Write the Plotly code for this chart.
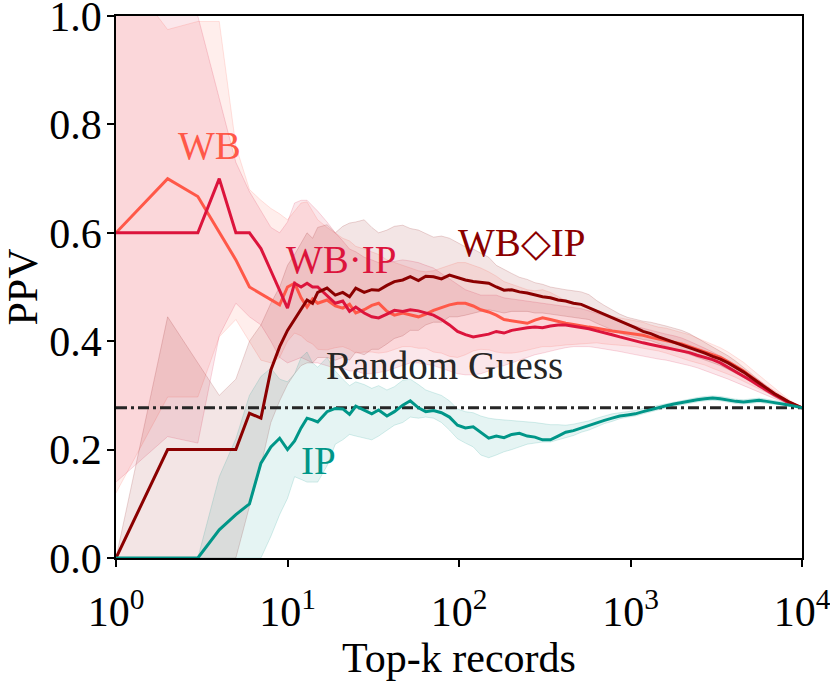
"""
PPV des top-k enregistrements pour quatre méthodes (WB, WB·IP, WB◇IP, IP),
avec bandes de dispersion et ligne du tirage aléatoire.
"""

import plotly.graph_objects as go

# ---------------------------------------------------------------------------
# Données
# ---------------------------------------------------------------------------

K = [1, 2, 3, 4, 5, 6, 7, 8, 9, 10,
     11, 12, 13, 14, 15, 17, 19, 21, 23, 25,
     28, 31, 34, 38, 42, 47, 52, 58, 64, 71,
     79, 88, 98, 109, 121, 134, 149, 165, 183, 203,
     225, 250, 277, 307, 341, 378, 419, 465, 516, 572,
     635, 704, 781, 866, 961, 1066, 1183, 1312, 1456, 1615,
     1792, 1988, 2205, 2447, 2715, 3012, 3342, 3708, 4114, 4564,
     5064, 5618, 6233, 6916, 7673, 8513, 10000]

RANDOM_PPV = 0.277

WB_MEAN = [0.600, 0.700, 0.667, 0.600, 0.550, 0.500, 0.487, 0.476, 0.467, 0.500,
           0.507, 0.480, 0.463, 0.478, 0.470, 0.476, 0.465, 0.461, 0.468, 0.452,
           0.458, 0.466, 0.470, 0.455, 0.448, 0.452, 0.448, 0.445, 0.450, 0.457,
           0.462, 0.467, 0.470, 0.470, 0.465, 0.458, 0.454, 0.448, 0.440, 0.438,
           0.436, 0.433, 0.439, 0.443, 0.440, 0.436, 0.433, 0.431, 0.428, 0.426,
           0.424, 0.421, 0.419, 0.417, 0.415, 0.414, 0.411, 0.407, 0.404, 0.402,
           0.398, 0.395, 0.390, 0.385, 0.379, 0.375, 0.370, 0.362, 0.354, 0.345,
           0.334, 0.323, 0.313, 0.303, 0.294, 0.286, 0.277]
WB_LO = [0.120, 0.297, 0.297, 0.408, 0.440, 0.400, 0.365, 0.360, 0.370, 0.400,
         0.415, 0.410, 0.400, 0.395, 0.385, 0.384, 0.388, 0.390, 0.385, 0.378,
         0.380, 0.380, 0.378, 0.380, 0.385, 0.390, 0.390, 0.387, 0.387, 0.380,
         0.378, 0.372, 0.370, 0.375, 0.382, 0.385, 0.384, 0.380, 0.378, 0.378,
         0.380, 0.383, 0.386, 0.390, 0.390, 0.392, 0.393, 0.394, 0.395, 0.396,
         0.397, 0.395, 0.394, 0.393, 0.392, 0.390, 0.387, 0.385, 0.382, 0.378,
         0.373, 0.368, 0.364, 0.360, 0.356, 0.350, 0.345, 0.339, 0.333, 0.326,
         0.319, 0.311, 0.304, 0.297, 0.290, 0.284, 0.277]
WB_HI = [1.100, 0.975, 0.990, 0.990, 0.760, 0.680, 0.660, 0.645, 0.635, 0.624,
         0.640, 0.655, 0.657, 0.640, 0.624, 0.610, 0.600, 0.590, 0.585, 0.575,
         0.570, 0.565, 0.560, 0.550, 0.545, 0.540, 0.535, 0.530, 0.528, 0.530,
         0.535, 0.540, 0.545, 0.545, 0.540, 0.535, 0.528, 0.520, 0.510, 0.505,
         0.500, 0.495, 0.493, 0.495, 0.490, 0.482, 0.475, 0.470, 0.466, 0.460,
         0.455, 0.450, 0.446, 0.443, 0.440, 0.438, 0.435, 0.430, 0.426, 0.424,
         0.420, 0.416, 0.412, 0.406, 0.400, 0.394, 0.388, 0.380, 0.371, 0.361,
         0.349, 0.337, 0.325, 0.313, 0.302, 0.291, 0.277]

WBIP_MEAN = [0.600, 0.600, 0.600, 0.700, 0.600, 0.600, 0.571, 0.530, 0.495, 0.461,
             0.507, 0.500, 0.507, 0.500, 0.500, 0.485, 0.470, 0.474, 0.455, 0.463,
             0.452, 0.445, 0.443, 0.450, 0.457, 0.455, 0.458, 0.456, 0.452, 0.448,
             0.440, 0.430, 0.418, 0.412, 0.408, 0.410, 0.413, 0.418, 0.415, 0.420,
             0.423, 0.425, 0.426, 0.425, 0.428, 0.430, 0.430, 0.428, 0.426, 0.423,
             0.419, 0.416, 0.412, 0.408, 0.404, 0.401, 0.397, 0.394, 0.391, 0.389,
             0.386, 0.383, 0.379, 0.374, 0.370, 0.366, 0.360, 0.352, 0.344, 0.336,
             0.327, 0.318, 0.309, 0.301, 0.293, 0.285, 0.277]
WBIP_LO = [0.140, 0.224, 0.212, 0.410, 0.470, 0.445, 0.430, 0.400, 0.370, 0.360,
           0.365, 0.370, 0.365, 0.360, 0.360, 0.355, 0.350, 0.350, 0.345, 0.345,
           0.340, 0.340, 0.342, 0.345, 0.350, 0.355, 0.360, 0.360, 0.358, 0.355,
           0.350, 0.345, 0.340, 0.338, 0.338, 0.340, 0.345, 0.352, 0.355, 0.360,
           0.365, 0.370, 0.375, 0.378, 0.382, 0.385, 0.388, 0.390, 0.390, 0.390,
           0.388, 0.386, 0.384, 0.381, 0.378, 0.375, 0.372, 0.369, 0.367, 0.365,
           0.362, 0.359, 0.355, 0.351, 0.346, 0.341, 0.336, 0.330, 0.324, 0.318,
           0.311, 0.305, 0.299, 0.294, 0.289, 0.284, 0.277]
WBIP_HI = [1.100, 1.100, 1.000, 0.850, 0.730, 0.676, 0.640, 0.610, 0.600, 0.620,
           0.655, 0.660, 0.660, 0.650, 0.640, 0.620, 0.600, 0.585, 0.570, 0.565,
           0.555, 0.550, 0.545, 0.545, 0.548, 0.550, 0.548, 0.545, 0.540, 0.535,
           0.525, 0.515, 0.505, 0.495, 0.490, 0.485, 0.485, 0.485, 0.480, 0.478,
           0.476, 0.474, 0.472, 0.470, 0.468, 0.466, 0.464, 0.462, 0.460, 0.456,
           0.452, 0.447, 0.442, 0.437, 0.432, 0.428, 0.424, 0.420, 0.416, 0.413,
           0.410, 0.406, 0.400, 0.394, 0.387, 0.380, 0.373, 0.365, 0.356, 0.347,
           0.338, 0.328, 0.318, 0.308, 0.299, 0.289, 0.277]

WBDIP_MEAN = [0.000, 0.200, 0.200, 0.200, 0.200, 0.267, 0.258, 0.347, 0.390, 0.420,
              0.440, 0.460, 0.476, 0.470, 0.490, 0.498, 0.485, 0.490, 0.482, 0.498,
              0.490, 0.495, 0.494, 0.503, 0.510, 0.513, 0.519, 0.512, 0.520, 0.519,
              0.515, 0.522, 0.517, 0.513, 0.510, 0.508, 0.507, 0.500, 0.494, 0.495,
              0.491, 0.489, 0.485, 0.482, 0.480, 0.476, 0.474, 0.470, 0.468, 0.462,
              0.455, 0.450, 0.443, 0.437, 0.432, 0.425, 0.418, 0.414, 0.408, 0.403,
              0.399, 0.393, 0.388, 0.383, 0.378, 0.372, 0.367, 0.360, 0.352, 0.343,
              0.333, 0.323, 0.313, 0.303, 0.295, 0.287, 0.277]
WBDIP_LO = [0.000, 0.000, 0.000, 0.000, 0.000, 0.095, 0.170, 0.250, 0.290, 0.320,
            0.340, 0.355, 0.360, 0.360, 0.370, 0.370, 0.365, 0.370, 0.365, 0.380,
            0.375, 0.385, 0.385, 0.395, 0.405, 0.410, 0.420, 0.420, 0.430, 0.435,
            0.435, 0.445, 0.445, 0.448, 0.452, 0.455, 0.458, 0.455, 0.452, 0.455,
            0.455, 0.455, 0.452, 0.452, 0.450, 0.448, 0.447, 0.445, 0.443, 0.440,
            0.433, 0.427, 0.420, 0.415, 0.410, 0.406, 0.403, 0.401, 0.396, 0.391,
            0.386, 0.381, 0.376, 0.371, 0.366, 0.360, 0.355, 0.348, 0.341, 0.333,
            0.324, 0.315, 0.306, 0.297, 0.290, 0.283, 0.277]
WBDIP_HI = [0.000, 0.445, 0.360, 0.300, 0.330, 0.400, 0.430, 0.470, 0.500, 0.540,
            0.560, 0.580, 0.600, 0.590, 0.610, 0.615, 0.600, 0.612, 0.618, 0.620,
            0.624, 0.610, 0.600, 0.605, 0.612, 0.614, 0.608, 0.605, 0.598, 0.592,
            0.594, 0.590, 0.582, 0.574, 0.570, 0.562, 0.555, 0.540, 0.532, 0.525,
            0.518, 0.514, 0.508, 0.505, 0.500, 0.497, 0.495, 0.493, 0.491, 0.486,
            0.475, 0.466, 0.458, 0.450, 0.444, 0.440, 0.437, 0.435, 0.432, 0.428,
            0.424, 0.420, 0.414, 0.406, 0.398, 0.390, 0.382, 0.373, 0.363, 0.352,
            0.340, 0.328, 0.316, 0.305, 0.296, 0.287, 0.277]

IP_MEAN = [0.000, 0.000, 0.000, 0.052, 0.080, 0.100, 0.175, 0.205, 0.221, 0.200,
           0.216, 0.240, 0.258, 0.255, 0.251, 0.270, 0.276, 0.275, 0.265, 0.280,
           0.272, 0.266, 0.273, 0.262, 0.270, 0.282, 0.290, 0.277, 0.270, 0.272,
           0.268, 0.260, 0.245, 0.240, 0.242, 0.232, 0.221, 0.225, 0.222, 0.228,
           0.230, 0.225, 0.223, 0.218, 0.218, 0.225, 0.232, 0.235, 0.240, 0.244,
           0.250, 0.254, 0.258, 0.262, 0.264, 0.266, 0.270, 0.274, 0.277, 0.281,
           0.284, 0.287, 0.290, 0.292, 0.294, 0.295, 0.294, 0.291, 0.289, 0.288,
           0.290, 0.291, 0.289, 0.287, 0.285, 0.282, 0.277]
IP_LO = [0.000, 0.000, 0.000, 0.000, 0.000, 0.000, 0.000, 0.040, 0.080, 0.110,
         0.150, 0.145, 0.140, 0.140, 0.140, 0.170, 0.210, 0.218, 0.228, 0.225,
         0.222, 0.218, 0.225, 0.236, 0.245, 0.250, 0.260, 0.258, 0.260, 0.258,
         0.250, 0.236, 0.220, 0.212, 0.205, 0.190, 0.185, 0.190, 0.196, 0.200,
         0.205, 0.210, 0.212, 0.214, 0.214, 0.218, 0.222, 0.226, 0.232, 0.236,
         0.242, 0.248, 0.252, 0.257, 0.260, 0.262, 0.266, 0.270, 0.273, 0.277,
         0.280, 0.283, 0.286, 0.288, 0.290, 0.291, 0.290, 0.287, 0.285, 0.284,
         0.286, 0.287, 0.285, 0.284, 0.282, 0.280, 0.277]
IP_HI = [0.000, 0.000, 0.000, 0.150, 0.220, 0.300, 0.335, 0.350, 0.330, 0.325,
         0.340, 0.370, 0.380, 0.360, 0.352, 0.370, 0.345, 0.330, 0.318, 0.325,
         0.320, 0.313, 0.318, 0.310, 0.316, 0.328, 0.330, 0.320, 0.310, 0.305,
         0.300, 0.290, 0.275, 0.270, 0.268, 0.262, 0.258, 0.256, 0.255, 0.254,
         0.252, 0.251, 0.250, 0.248, 0.246, 0.246, 0.245, 0.247, 0.250, 0.253,
         0.258, 0.262, 0.266, 0.268, 0.270, 0.272, 0.276, 0.279, 0.282, 0.285,
         0.288, 0.291, 0.294, 0.296, 0.298, 0.299, 0.298, 0.295, 0.293, 0.292,
         0.294, 0.295, 0.293, 0.291, 0.288, 0.285, 0.277]

X_TICKS = [1, 10, 100, 1000, 10000]
X_TICK_LABELS = ["10<sup>0</sup>", "10<sup>1</sup>", "10<sup>2</sup>",
                 "10<sup>3</sup>", "10<sup>4</sup>"]
Y_TICKS = [0.0, 0.2, 0.4, 0.6, 0.8, 1.0]

# ---------------------------------------------------------------------------
# Style
# ---------------------------------------------------------------------------

FONT = "Liberation Serif, Times New Roman, serif"
LABEL_SIZE = 39

SERIES = [
    # (nom, moyenne, bas, haut, couleur rgb, position du texte (log10 k, y))
    ("WB", WB_MEAN, WB_LO, WB_HI, (255, 88, 72), (0.548, 0.761)),
    ("WB·IP", WBIP_MEAN, WBIP_LO, WBIP_HI, (220, 20, 60), (1.312, 0.551)),
    ("WB◇IP", WBDIP_MEAN, WBDIP_LO, WBDIP_HI, (139, 0, 0), (2.367, 0.582)),
    ("IP", IP_MEAN, IP_LO, IP_HI, (0, 150, 136), (1.178, 0.179)),
]


def rgba(c, a):
    return f"rgba({c[0]},{c[1]},{c[2]},{a})"


def main() -> None:
    fig = go.Figure()

    # Bandes de dispersion
    for name, mean, lo, hi, col, _ in SERIES:
        fig.add_trace(go.Scatter(
            x=K, y=hi, mode="lines",
            line=dict(color=rgba(col, 0.16), width=1),
            hoverinfo="skip", showlegend=False,
        ))
        fig.add_trace(go.Scatter(
            x=K, y=lo, mode="lines",
            line=dict(color=rgba(col, 0.16), width=1),
            fill="tonexty", fillcolor=rgba(col, 0.1),
            hoverinfo="skip", showlegend=False,
        ))

    # Tirage aléatoire
    fig.add_trace(go.Scatter(
        x=[K[0], K[-1]], y=[RANDOM_PPV, RANDOM_PPV], mode="lines",
        line=dict(color="#262626", width=3, dash="11px,4px,3px,4px"),
        showlegend=False,
    ))

    # Courbes moyennes
    for name, mean, lo, hi, col, _ in SERIES:
        fig.add_trace(go.Scatter(
            x=K, y=mean, mode="lines",
            line=dict(color=rgba(col, 1), width=3),
            name=name, showlegend=False,
        ))

    # Étiquettes des courbes
    for name, mean, lo, hi, col, (lx, ly) in SERIES:
        fig.add_annotation(
            x=lx, y=ly, xref="x", yref="y", text=name, showarrow=False,
            font=dict(family=FONT, size=LABEL_SIZE, color=rgba(col, 1)),
        )
    fig.add_annotation(
        x=1.918, y=0.356, xref="x", yref="y", text="Random Guess",
        showarrow=False, font=dict(family=FONT, size=LABEL_SIZE, color="#262626"),
    )

    axis_common = dict(
        showline=True, linewidth=1.6, linecolor="black", mirror=True,
        ticks="outside", ticklen=7, tickwidth=1.6, tickcolor="black",
        showgrid=False, zeroline=False, ticklabeloverflow="allow",
        tickfont=dict(family=FONT, size=42, color="black"),
    )

    fig.update_layout(
        xaxis=dict(
            type="log", range=[0, 4],
            tickvals=X_TICKS, ticktext=X_TICK_LABELS, ticklabelstandoff=9,
            title=dict(text="Top-k records", standoff=4,
                       font=dict(family=FONT, size=42, color="black")),
            **axis_common,
        ),
        yaxis=dict(
            range=[0, 1], tickvals=Y_TICKS, tickformat=".1f",
            ticklabelstandoff=-3,
            title=dict(text="PPV", standoff=8,
                       font=dict(family=FONT, size=42, color="black")),
            **axis_common,
        ),
        plot_bgcolor="white", paper_bgcolor="white",
        width=830, height=682,
        margin=dict(l=116, r=28, t=16, b=124, autoexpand=False),
        showlegend=False,
    )

    # la page n'a pas de marge : la figure occupe toute la fenêtre
    fig.write_html(
        "out.html",
        config={"displayModeBar": False},
        post_script="document.body.style.margin='0';",
    )


if __name__ == "__main__":
    main()
